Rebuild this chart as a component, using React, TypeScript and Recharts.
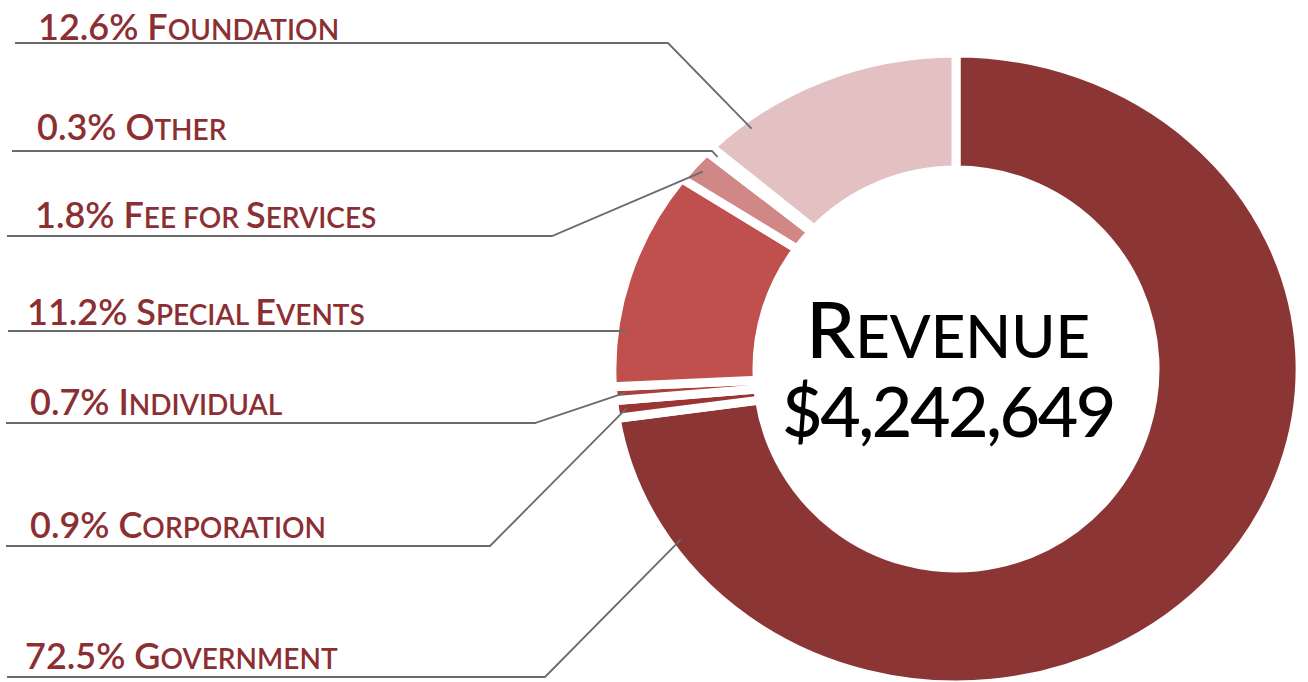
import React from 'react';
import { PieChart, Pie, Cell, Label } from 'recharts';

// ---- data ----
const CATEGORIES = ['Government', 'Corporation', 'Individual', 'Special Events', 'Fee for Services', 'Other', 'Foundation'];
const SHARES = [72.5, 0.9, 0.7, 11.2, 1.8, 0.3, 12.6];
const COLORS = ['#8b3634', '#9a3533', '#ab3f3d', '#c0504d', '#d08785', '#deaaa9', '#e3c1c2'];
const TOTAL_REVENUE = 4242649;
const CENTER_TITLE = 'Revenue';

// ---- annotation layout (label rows, same order as categories) ----
const ROW_LINE_Y = [677, 546, 423, 331, 236, 151, 43];
const ROW_TEXT_Y = [669, 538, 415, 325, 228, 140, 40];
const ROW_TEXT_X = [25, 30, 30, 27, 35, 37, 38];
const ROW_LINE_X0 = [7, 6, 6, 8, 7, 12, 15];
const ROW_ELBOW_X: (number | null)[] = [545, 490, 535, null, 552, 712, 668];
const ROW_ANCHOR_ANGLE: (number | null)[] = [214, null, null, 172.8, null, null, 128];

const ELLIPSE_K = 1.089;
const ANCHOR_FRAC = 0.965;
const GAP = 9;
const TEXT_COLOR = '#8c2f33';
const LINE_COLOR = '#6b6b6b';
const FONT = 'Lato, "Open Sans", sans-serif';
const RAD = Math.PI / 180;

const data = CATEGORIES.map((name, i) => ({ name, value: SHARES[i] }));

function EllipseSector(props: any) {
  const { cx, cy, innerRadius, outerRadius, startAngle, endAngle, fill } = props;
  const rx = outerRadius * ELLIPSE_K;
  const ry = outerRadius;
  const ri = innerRadius;
  const o = (a: number) => `${cx + rx * Math.cos(a * RAD)},${cy - ry * Math.sin(a * RAD)}`;
  const inn = (a: number) => `${cx + ri * Math.cos(a * RAD)},${cy - ri * Math.sin(a * RAD)}`;
  const delta = Math.abs(startAngle - endAngle);
  const large = delta > 180 ? 1 : 0;
  const sweep = startAngle > endAngle ? 1 : 0;
  const d = `M${o(startAngle)} A${rx},${ry} 0 ${large} ${sweep} ${o(endAngle)} L${inn(endAngle)} A${ri},${ri} 0 ${large} ${1 - sweep} ${inn(startAngle)} Z`;
  return <path d={d} fill={fill} stroke="#ffffff" strokeWidth={GAP} strokeLinejoin="miter" />;
}

function smallCapsSpans(text: string, big: number, small: number) {
  const words = text.split(' ');
  const spans: any[] = [];
  words.forEach((w, wi) => {
    if (wi > 0) spans.push(<tspan key={`s${wi}`} fontSize={small}>{' '}</tspan>);
    const first = w[0];
    if (first === first.toUpperCase()) {
      spans.push(<tspan key={`b${wi}`} fontSize={big}>{first}</tspan>);
      if (w.length > 1) spans.push(<tspan key={`r${wi}`} fontSize={small}>{w.slice(1).toUpperCase()}</tspan>);
    } else {
      spans.push(<tspan key={`l${wi}`} fontSize={small}>{w.toUpperCase()}</tspan>);
    }
  });
  return spans;
}

function renderLabel(props: any) {
  const { cx, cy, outerRadius, midAngle, index } = props;
  const ang = ROW_ANCHOR_ANGLE[index] ?? midAngle;
  const ax = cx + ANCHOR_FRAC * outerRadius * ELLIPSE_K * Math.cos(ang * RAD);
  const ay = cy - ANCHOR_FRAC * outerRadius * Math.sin(ang * RAD);
  const ly = ROW_LINE_Y[index];
  const ex = ROW_ELBOW_X[index];
  const pts = ex == null
    ? `${ROW_LINE_X0[index]},${ly} ${ax},${ly}`
    : `${ROW_LINE_X0[index]},${ly} ${ex},${ly} ${ax},${ay}`;
  const pct = `${SHARES[index].toFixed(1)}% `;
  return (
    <g key={`lbl-${index}`}>
      <polyline points={pts} fill="none" stroke={LINE_COLOR} strokeWidth={1.8} />
      <text x={ROW_TEXT_X[index]} y={ROW_TEXT_Y[index]} fill={TEXT_COLOR} fontFamily={FONT} fontWeight={600} style={{ whiteSpace: 'pre' }}>
        <tspan fontSize={36}>{pct}</tspan>
        {smallCapsSpans(CATEGORIES[index], 36, 28)}
      </text>
    </g>
  );
}

function CenterText(props: any) {
  const vb = props.viewBox || {};
  const cx = (vb.cx ?? 956) - 8;
  const cy = vb.cy ?? 369;
  return (
    <g>
      <text x={cx} y={cy - 11} textAnchor="middle" fill="#000" fontFamily={FONT} fontWeight={500} style={{ whiteSpace: 'pre' }}>
        {smallCapsSpans(CENTER_TITLE, 78, 60)}
      </text>
      <text x={cx} y={cy + 68} textAnchor="middle" fill="#000" fontFamily={FONT} fontWeight={500} fontSize={70} letterSpacing={-2.5}>
        {'$' + TOTAL_REVENUE.toLocaleString('en-US')}
      </text>
    </g>
  );
}

export default function App() {
  return (
    <div style={{ position: 'absolute', left: 0, top: 0, width: 1308, height: 682, background: '#fff', overflow: 'hidden' }}>
      <PieChart width={1308} height={682} margin={{ top: 0, right: 0, bottom: 0, left: 0 }}>
        <Pie
          data={data}
          dataKey="value"
          nameKey="name"
          cx={956}
          cy={369}
          innerRadius={199}
          outerRadius={316}
          startAngle={90}
          endAngle={-270}
          paddingAngle={0}
          stroke="#ffffff"
          strokeWidth={GAP}
          isAnimationActive={false}
          labelLine={false}
          label={renderLabel}
          shape={EllipseSector}
          inactiveShape={EllipseSector}
          activeShape={EllipseSector}
        >
          {data.map((d, i) => (
            <Cell key={d.name} fill={COLORS[i]} />
          ))}
          <Label position="center" content={<CenterText />} />
        </Pie>
      </PieChart>
    </div>
  );
}
